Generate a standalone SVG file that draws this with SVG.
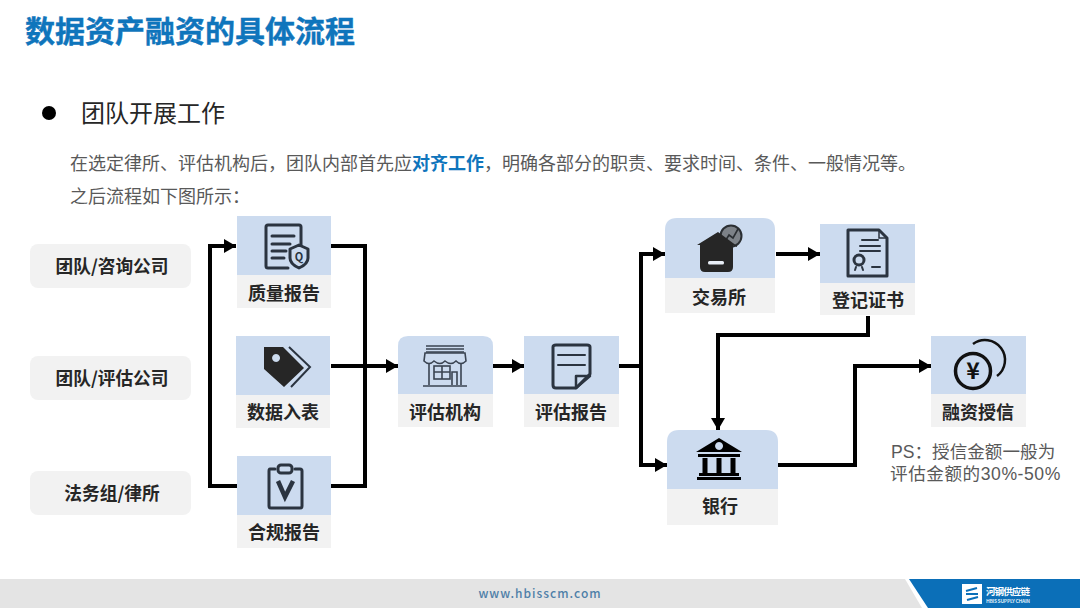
<svg xmlns="http://www.w3.org/2000/svg" width="1080" height="608" viewBox="0 0 1080 608">
<style>
text{font-family:"Noto Sans CJK SC","Liberation Sans",sans-serif}
.lb{font-size:18px;font-weight:700;fill:#262626;text-anchor:middle}
.pl{font-size:17.7px}
.pill{fill:#f2f2f2}
.bl{fill:#ccdbef}
.gr{fill:#f2f2f2}
.c{fill:none;stroke:#000;stroke-width:4;stroke-linejoin:miter}
.body{font-size:18px;fill:#595959}
.ps{font-family:"Liberation Sans","Noto Sans CJK SC",sans-serif;font-size:17.6px;fill:#595959}
.ic{fill:none;stroke:#2b3440;stroke-width:3;stroke-linejoin:round;stroke-linecap:round}
.ict{fill:none;stroke:#2b3440;stroke-width:2;stroke-linecap:round}
.k{fill:#262626}
</style>
<defs>
<marker id="a" markerUnits="userSpaceOnUse" markerWidth="13" markerHeight="15" refX="12" refY="7" orient="auto"><path d="M0 0L12 7L0 14Z" fill="#000"/></marker>
</defs>
<rect width="1080" height="608" fill="#fff"/>
<text x="25" y="42" font-size="30" font-weight="700" fill="#0f75bc" stroke="#0f75bc" stroke-width=".4">数据资产融资的具体流程</text>
<circle cx="49" cy="113" r="7" fill="#000"/>
<text x="81" y="122" font-size="24" fill="#262626">团队开展工作</text>
<text x="70" y="170" class="body">在选定律所、评估机构后，团队内部首先应<tspan font-weight="700" fill="#0f75bc">对齐工作</tspan>，明确各部分的职责、要求时间、条件、一般情况等。</text>
<text x="70" y="203" class="body">之后流程如下图所示：</text>

<g id="actors">
<g id="actor-consult"><rect class="pill" x="30" y="244" width="161" height="44" rx="8"/><text class="lb pl" x="112" y="273">团队/咨询公司</text></g>
<g id="actor-valuer"><rect class="pill" x="30" y="356" width="161" height="44" rx="8"/><text class="lb pl" x="112" y="385">团队/评估公司</text></g>
<g id="actor-legal"><rect class="pill" x="30" y="471" width="161" height="44" rx="8"/><text class="lb pl" x="112" y="500">法务组/律所</text></g>
</g>

<g id="connectors">
<path class="c" d="M237 486H210V246H236" marker-end="url(#a)"/>
<path class="c" d="M331 246H365V486H331"/>
<path class="c" d="M331 366H398" marker-end="url(#a)"/>
<path class="c" d="M493 366H524" marker-end="url(#a)"/>
<path class="c" d="M619 366H641V254H665" marker-end="url(#a)"/>
<path class="c" d="M641 366V465H667" marker-end="url(#a)"/>
<path class="c" d="M776 254H820" marker-end="url(#a)"/>
<path class="c" d="M868 316V335H718V430" marker-end="url(#a)"/>
<path class="c" d="M778 465H855V366H931" marker-end="url(#a)"/>
</g>

<g id="n-quality">
<rect class="gr" x="237" y="216" width="94" height="92"/><rect class="bl" x="237" y="216" width="94" height="59"/>
<path class="ic" d="M288 268H268Q266 268 266 266V227Q266 225 268 225H299Q301 225 301 227V245"/>
<path class="ic" d="M272 236H294M272 244H290M272 251H286M272 258H284" stroke-width="2.5"/>
<path class="ic" d="M299 245L308 249V258Q308 264 299 268Q290 264 290 258V249Z" stroke-width="2.5"/>
<text x="299" y="261" text-anchor="middle" font-size="11" font-weight="700" fill="#2b3440">Q</text>
<text class="lb" x="284" y="300">质量报告</text>
</g>
<g id="n-data">
<rect class="gr" x="236" y="336" width="94" height="92"/><rect class="bl" x="236" y="336" width="94" height="59"/>
<path class="k" fill-rule="evenodd" d="M264 347H283L304 368L284 387L264 369ZM276 354a4 4 0 1 0 .1 0Z"/>
<path d="M289 347L310 367L291 387" fill="none" stroke="#2b3440" stroke-width="2"/>
<text class="lb" x="283" y="419">数据入表</text>
</g>
<g id="n-compliance">
<rect class="gr" x="237" y="456" width="94" height="92"/><rect class="bl" x="237" y="456" width="94" height="59"/>
<path class="ic" d="M275 469H270Q269 469 269 471V506Q269 508 271 508H300Q302 508 302 506V471Q302 469 300 469H295" stroke-width="3.5"/>
<rect x="278" y="465" width="14" height="8" rx="3" fill="none" stroke="#2b3440" stroke-width="3"/>
<path d="M278 481L285 497L293 481" fill="none" stroke="#2b3440" stroke-width="4.5"/>
<text class="lb" x="284" y="539">合规报告</text>
</g>
<g id="n-agency">
<path class="gr" d="M398 394H493V427H398Z"/><path class="bl" d="M398 394V346Q398 336 408 336H483Q493 336 493 346V394Z"/>
<g fill="none" stroke="#3a4452" stroke-width="1.6">
<path d="M426 346H464M426 349H464M426 352H464"/>
<path d="M425 353H465L466 361Q461 366 456 361Q451 366 445 361Q440 366 434 361Q429 366 424 361Z"/>
<path d="M429 364V385M461 364V385M423 386H467"/>
<rect x="434" y="366" width="16" height="13"/><path d="M442 366V379M434 372H450"/>
<path d="M452 385V372H457V385"/>
</g>
<text class="lb" x="445" y="419">评估机构</text>
</g>
<g id="n-report">
<rect class="gr" x="524" y="336" width="95" height="91"/><rect class="bl" x="524" y="336" width="95" height="58"/>
<path class="ic" d="M576 388H556Q553 388 553 385V347Q553 345 556 345H587Q590 345 590 347V374Z" stroke-width="2.5"/>
<path d="M576 388V376H590Z" fill="none" stroke="#2b3440" stroke-width="2.5" stroke-linejoin="round"/>
<path class="ict" d="M558 355H585M558 365H585" stroke-width="2.5"/>
<text class="lb" x="571" y="419">评估报告</text>
</g>
<g id="n-exchange">
<path class="gr" d="M665 278H775V313H665Z"/><path class="bl" d="M665 278V230Q665 218 677 218H763Q775 218 775 230V278Z"/>
<circle cx="731" cy="236" r="10.5" fill="#7d8288" stroke="#2b2f33" stroke-width="2"/>
<path d="M724 243L729 235L733 238L738 229" fill="none" stroke="#2b2f33" stroke-width="1.6"/>
<path class="k" d="M697 245L718 232L737 246V247L733 245V267Q733 272 728 272H705Q700 272 700 267V245Z"/>
<rect x="708" y="261" width="16" height="3.5" rx="1.5" fill="#e8eef6"/>
<text class="lb" x="719" y="304">交易所</text>
</g>
<g id="n-cert">
<rect class="gr" x="820" y="224" width="95" height="91"/><rect class="bl" x="820" y="224" width="95" height="59"/>
<path class="ic" d="M848 276V230H879L887 238V276Z" stroke-width="2"/>
<path d="M879 230V238H887" fill="none" stroke="#2b3440" stroke-width="1.5"/>
<path class="ict" d="M862 240H878M860 246H880M860 251H880M872 267H880" stroke-width="1.6"/>
<circle cx="859" cy="260" r="5" fill="none" stroke="#2b3440" stroke-width="3"/>
<path class="ict" d="M856 267L855 270M862 267L863 270"/>
<text class="lb" x="868" y="307">登记证书</text>
</g>
<g id="n-bank">
<path class="gr" d="M667 489H778V525H667Z"/><path class="bl" d="M667 489V442Q667 430 679 430H766Q778 430 778 442V489Z"/>
<path fill="#000" fill-rule="evenodd" d="M719 438L742 452H696ZM719 442a4 4 0 1 0 .1 0Z"/>
<rect x="698" y="454" width="42" height="3" fill="#000"/>
<path d="M705 458V473M719 458V473M733 458V473" stroke="#000" stroke-width="5"/>
<rect x="699" y="473" width="40" height="3" fill="#000"/>
<rect x="697" y="477" width="44" height="3" fill="#000"/>
<text class="lb" x="720" y="513">银行</text>
</g>
<g id="n-credit">
<rect class="gr" x="931" y="336" width="95" height="91"/><rect class="bl" x="931" y="336" width="95" height="58"/>
<circle cx="973" cy="371" r="17.5" fill="none" stroke="#111" stroke-width="3.5"/>
<path d="M973 344A20 20 0 0 1 997 376" fill="none" stroke="#111" stroke-width="2.5"/>
<text x="973" y="379" text-anchor="middle" font-size="23" font-weight="700" fill="#111">¥</text>
<text class="lb" x="978" y="419">融资授信</text>
</g>
<text class="ps" x="891" y="458">PS：授信金额一般为</text>
<text class="ps" x="890" y="480" letter-spacing=".55">评估金额的30%-50%</text>

<g id="footer">
<rect x="0" y="579" width="1080" height="29" fill="#e4e4e4"/>
<path d="M905 579H1080V608H922Z" fill="#fff"/>
<path d="M909 579H1080V608H928Z" fill="#0b6fb8"/>
<text x="540" y="598" text-anchor="middle" font-size="12" font-weight="500" letter-spacing="1" fill="#4f7fa8" font-family="Liberation Sans">www.hbisscm.com</text>
<rect x="962" y="584" width="20" height="20" fill="#fff"/>
<path d="M966 591L977 588M978 597L967 600M966 594H978" stroke="#0b6fb8" stroke-width="2" fill="none"/>
<text x="986" y="595" font-size="9.5" font-weight="700" fill="#fff" textLength="44">河钢供应链</text>
<text x="986" y="602.5" font-size="5" font-weight="700" fill="#d5e6f4" textLength="44">HBIS SUPPLY CHAIN</text>
</g>
</svg>
